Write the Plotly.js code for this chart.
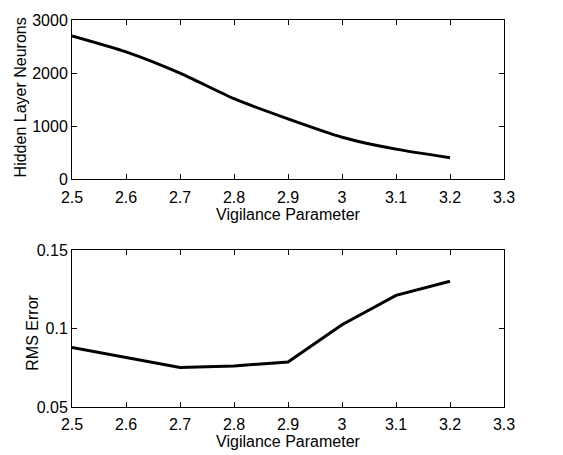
<!DOCTYPE html>
<html><head><meta charset="utf-8">
<script src="https://cdn.plot.ly/plotly-3.0.1.min.js"></script>
<style>html,body{margin:0;padding:0;background:#fff}</style>
</head><body>
<div id="chart" style="width:563px;height:455px"></div>
<script>
var vigilance = [2.5, 2.6, 2.7, 2.8, 2.9, 3.0, 3.1, 3.2];
var hiddenNeurons = [2700, 2400, 2000, 1520, 1140, 795, 570, 410];
var rmsError = [0.088, 0.0815, 0.0752, 0.0762, 0.0787, 0.1025, 0.1212, 0.1302];
var xTicks = [2.5, 2.6, 2.7, 2.8, 2.9, 3, 3.1, 3.2, 3.3];
var xTickText = ['2.5','2.6','2.7','2.8','2.9','3','3.1','3.2','3.3'];
var yTicksTop = [0, 1000, 2000, 3000];
var yTicksBottom = [0.05, 0.1, 0.15];
var yTickTextBottom = ['0.05','0.1','0.15'];

var font = {family: 'Liberation Sans, Arial, sans-serif', size: 16, color: '#000'};
var axisCommon = {
  showline: true, mirror: 'ticks', linecolor: '#000', linewidth: 1,
  ticks: 'inside', ticklen: 5, tickcolor: '#000', tickwidth: 1,
  showgrid: false, zeroline: false, tickfont: font
};

var traces = [
  {x: vigilance, y: hiddenNeurons, type: 'scatter', mode: 'lines',
   line: {color: '#000', width: 3, shape: 'spline', smoothing: 0.6}, xaxis: 'x', yaxis: 'y'},
  {x: vigilance, y: rmsError, type: 'scatter', mode: 'lines',
   line: {color: '#000', width: 3}, xaxis: 'x2', yaxis: 'y2'}
];

var layout = {
  width: 563, height: 455,
  margin: {l: 72, r: 59, t: 20, b: 48},
  paper_bgcolor: '#fff', plot_bgcolor: '#fff',
  showlegend: false,
  font: font,
  xaxis: Object.assign({}, axisCommon, {domain: [0, 1], anchor: 'y', range: [2.5, 3.3],
    tickvals: xTicks, ticktext: xTickText, ticklabelstandoff: 3,
    title: {text: 'Vigilance Parameter', font: font, standoff: 2}}),
  yaxis: Object.assign({}, axisCommon, {domain: [0.588, 1], anchor: 'x', range: [0, 3000],
    tickvals: yTicksTop}),
  xaxis2: Object.assign({}, axisCommon, {domain: [0, 1], anchor: 'y2', range: [2.5, 3.3],
    tickvals: xTicks, ticktext: xTickText, ticklabelstandoff: 3,
    title: {text: 'Vigilance Parameter', font: font, standoff: 2}}),
  yaxis2: Object.assign({}, axisCommon, {domain: [0, 0.405], anchor: 'x2', range: [0.05, 0.15],
    tickvals: yTicksBottom, ticktext: yTickTextBottom}),
  annotations: [
    {text: 'Hidden Layer Neurons', textangle: -90, xref: 'paper', yref: 'paper',
     x: 0, xshift: -52, xanchor: 'center', y: 0.8, yanchor: 'middle', showarrow: false, font: font},
    {text: 'RMS Error', textangle: -90, xref: 'paper', yref: 'paper',
     x: 0, xshift: -39, xanchor: 'center', y: 0.192, yanchor: 'middle', showarrow: false, font: font}
  ]
};

Plotly.newPlot('chart', traces, layout, {displayModeBar: false, staticPlot: true});
</script>
</body></html>
